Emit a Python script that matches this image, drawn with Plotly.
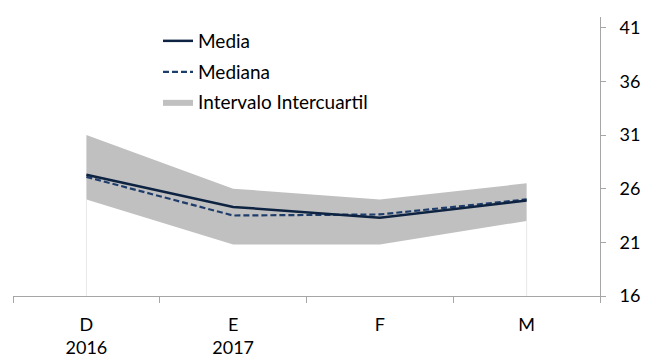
import plotly.graph_objects as go

# Monthly survey statistics
categories = ["D<br>2016", "E<br>2017", "F", "M"]
media = [27.3, 24.3, 23.3, 24.9]
mediana = [27.1, 23.5, 23.6, 25.0]
q1 = [25.0, 20.8, 20.8, 23.0]
q3 = [31.0, 26.0, 25.0, 26.5]

y_min, y_max = 16, 42

navy = "#0d2341"
navy_dash = "#1f3d6b"
band_grey = "#c0c0c0"
axis_grey = "#a6a6a6"
font_family = "Lato, Carlito, Calibri, sans-serif"

fig = go.Figure()

# interquartile band
fig.add_trace(go.Scatter(
    x=categories, y=q1, mode="lines", line=dict(width=0, color=band_grey),
    showlegend=False, hoverinfo="skip",
))
fig.add_trace(go.Scatter(
    x=categories, y=q3, mode="lines", line=dict(width=0, color=band_grey),
    fill="tonexty", fillcolor=band_grey,
    name="Intervalo Intercuartil", legend="legend3",
))

# light drop lines under the band at the first and last category
for i in (0, len(categories) - 1):
    fig.add_trace(go.Scatter(
        x=[categories[i], categories[i]], y=[y_min, q1[i]],
        mode="lines", line=dict(color="#e8e8e8", width=1),
        showlegend=False, hoverinfo="skip",
    ))

fig.add_trace(go.Scatter(
    x=categories, y=mediana, mode="lines",
    line=dict(color=navy_dash, width=2.2, dash="6px,3px"),
    name="Mediana", legend="legend2",
))
fig.add_trace(go.Scatter(
    x=categories, y=media, mode="lines",
    line=dict(color=navy, width=2.5),
    name="Media", legend="legend",
))

legend_common = dict(
    font=dict(family=font_family, size=19, color="#000000"),
    bgcolor="rgba(0,0,0,0)", xanchor="left", yanchor="middle",
    xref="paper", yref="paper", itemwidth=30,
)

plot_top, plot_bottom = 17, 296
def paper_y(px):
    return (plot_bottom - px) / (plot_bottom - plot_top)
def paper_x(px):
    return (px - 13) / (600 - 13)

tick_font = dict(family=font_family, size=18, color="#000000")

fig.update_layout(
    width=659, height=358,
    margin=dict(l=13, r=59, t=17, b=62, autoexpand=False),
    paper_bgcolor="white", plot_bgcolor="white",
    font=dict(family=font_family, size=18, color="#000000"),
    legend=dict(x=paper_x(158), y=paper_y(41), **legend_common),
    legend2=dict(x=paper_x(158), y=paper_y(72), **legend_common),
    legend3=dict(x=paper_x(158), y=paper_y(102), **legend_common),
    xaxis=dict(
        type="category", categoryorder="array", categoryarray=categories,
        range=[-0.5, len(categories) - 0.5], automargin=False,
        tickson="boundaries", ticks="outside", ticklen=6,
        tickcolor=axis_grey, showline=True, linecolor=axis_grey, linewidth=1,
        showgrid=False, zeroline=False, ticklabelstandoff=12,
        tickfont=tick_font,
    ),
    yaxis=dict(
        side="right", range=[y_min, y_max], tick0=16, dtick=5,
        automargin=False,
        ticks="outside", ticklen=5, tickcolor=axis_grey,
        showline=True, linecolor=axis_grey, linewidth=1,
        showgrid=False, zeroline=False, ticklabelstandoff=10,
        tickfont=tick_font,
    ),
)

fig.write_html("out.html")
